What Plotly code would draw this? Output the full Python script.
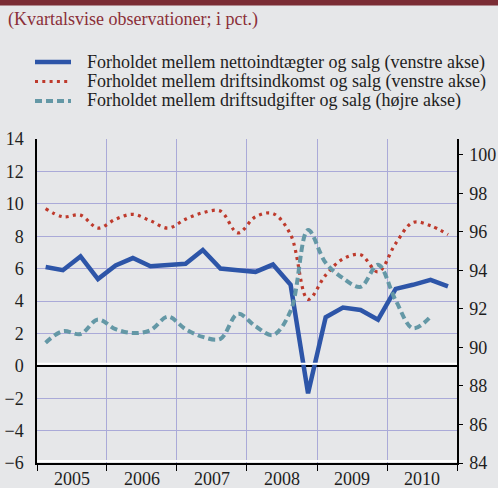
import plotly.graph_objects as go

# Quarter midpoints, 2005Q1 - 2010Q4
QUARTER_DAYS = ["02-15", "05-16", "08-16", "11-15"]
YEARS = [2005, 2006, 2007, 2008, 2009, 2010]
quarters = [f"{y}-{d}" for y in YEARS for d in QUARTER_DAYS]

# Left axis (pct.)
netto = [6.1, 5.9, 6.75, 5.35, 6.2, 6.65, 6.15, 6.25,
         6.3, 7.15, 6.0, 5.9, 5.8, 6.25, 5.0, -1.7,
         3.0, 3.6, 3.45, 2.85, 4.75, 5.0, 5.3, 4.9]
drift_indk = [9.7, 9.2, 9.3, 8.5, 9.05, 9.35, 8.95, 8.5,
              9.05, 9.45, 9.55, 8.2, 9.2, 9.4, 8.1, 4.1,
              5.6, 6.6, 6.85, 5.8, 7.55, 8.85, 8.65, 8.1]
# Right axis (pct.)
drift_udg = [90.25, 90.85, 90.7, 91.45, 90.95, 90.75, 90.9, 91.6,
             90.95, 90.55, 90.45, 91.75, 91.1, 90.65, 91.9, 96.1,
             94.4, 93.6, 93.15, 94.3, 92.45, 91.0, 91.6, None]

NAMES = [
    "Forholdet mellem nettoindtægter og salg (venstre akse)",
    "Forholdet mellem driftsindkomst og salg (venstre akse)",
    "Forholdet mellem driftsudgifter og salg (højre akse)",
]

BG = "#E6E7E9"
GRID = "#AAAAD8"
FONT = "Liberation Serif"
TEXT = "#1E1E1E"
SIZE = 18

STYLES = [
    dict(color="#2D55A8", width=4.5),
    dict(color="#BE3A2C", width=3.2, dash="3px,4.3px"),
    dict(color="#6498A6", width=4, dash="7px,4px"),
]

# plot area in pixels: left 37, right 457, top 139, bottom 463
def px_x(px):
    return (px - 37) / 420


def px_y(py):
    return (463 - py) / 324


fig = go.Figure()
fig.add_trace(go.Scatter(
    x=quarters, y=netto, mode="lines", name=NAMES[0], showlegend=False,
    line=STYLES[0],
))
fig.add_trace(go.Scatter(
    x=quarters, y=drift_indk, mode="lines", name=NAMES[1], showlegend=False,
    line=dict(**STYLES[1], shape="spline", smoothing=1.0),
))
fig.add_trace(go.Scatter(
    x=quarters, y=drift_udg, mode="lines", yaxis="y2", name=NAMES[2], showlegend=False,
    line=dict(**STYLES[2], shape="spline", smoothing=1.0),
))

shapes = [
    # dark red band at the top
    dict(type="rect", xref="paper", yref="paper", x0=-0.2, x1=1.2,
         y0=px_y(5.5), y1=px_y(-10), fillcolor="#7B2D35", line_width=0, layer="below"),
    # white highlight above the zero line
    dict(type="line", xref="paper", yref="y", x0=0, x1=1,
         ysizemode="pixel", yanchor=0, y0=2, y1=2, line=dict(color="white", width=2)),
    # white highlight above the bottom axis
    dict(type="line", xref="paper", yref="y", x0=0, x1=1,
         ysizemode="pixel", yanchor=-6, y0=2, y1=2, line=dict(color="white", width=2)),
]
annotations = [
    dict(text="(Kvartalsvise observationer; i pct.)", xref="paper", yref="paper",
         x=px_x(6), y=px_y(20), xanchor="left", yanchor="middle",
         showarrow=False, font=dict(family=FONT, size=SIZE, color="#8B2F38")),
]

# legend drawn by hand to keep the original spacing
for i, (name, style) in enumerate(zip(NAMES, STYLES)):
    row_y = px_y(62 + i * 19.5)
    shapes.append(dict(type="line", xref="paper", yref="paper",
                       x0=px_x(35), x1=px_x(71), y0=row_y, y1=row_y,
                       line=style))
    annotations.append(dict(text=name, xref="paper", yref="paper",
                            x=px_x(85), y=row_y, xanchor="left", yanchor="middle",
                            showarrow=False, font=dict(family=FONT, size=SIZE, color=TEXT)))

tickfont = dict(family=FONT, size=SIZE, color=TEXT)

fig.update_layout(
    width=498, height=488,
    margin=dict(l=37, r=41, t=139, b=25),
    paper_bgcolor=BG, plot_bgcolor=BG,
    font=dict(family=FONT, size=SIZE, color=TEXT),
    showlegend=False,
    xaxis=dict(
        type="date", range=["2005-01-01", "2011-01-01"],
        tick0="2005-01-01", dtick="M12", tickformat="%Y",
        ticklabelmode="period", ticks="outside", ticklen=6, tickcolor="black",
        ticklabelstandoff=-7, tickfont=tickfont,
        showgrid=True, gridcolor=GRID, gridwidth=1,
        showline=True, linecolor="black", linewidth=1.5, automargin=False,
    ),
    yaxis=dict(
        range=[-6, 14], dtick=2, showgrid=True, gridcolor=GRID, gridwidth=1,
        zeroline=True, zerolinecolor="black", zerolinewidth=1.5,
        showline=True, linecolor="black", linewidth=1.5,
        ticks="", ticklabelstandoff=8, automargin=False, tickfont=tickfont,
    ),
    yaxis2=dict(
        overlaying="y", side="right", range=[84, 100.83],
        tickvals=[84, 86, 88, 90, 92, 94, 96, 98, 100],
        showgrid=False, zeroline=False,
        showline=True, linecolor="black", linewidth=1.5,
        ticks="outside", ticklen=4, tickcolor="black", automargin=False,
        ticklabelstandoff=3, tickfont=tickfont,
    ),
    shapes=shapes,
    annotations=annotations,
)

# the page's default body margin would shift the figure by 8px
fig.write_html("out.html", config={"displayModeBar": False},
               post_script="document.body.style.margin='0';")
